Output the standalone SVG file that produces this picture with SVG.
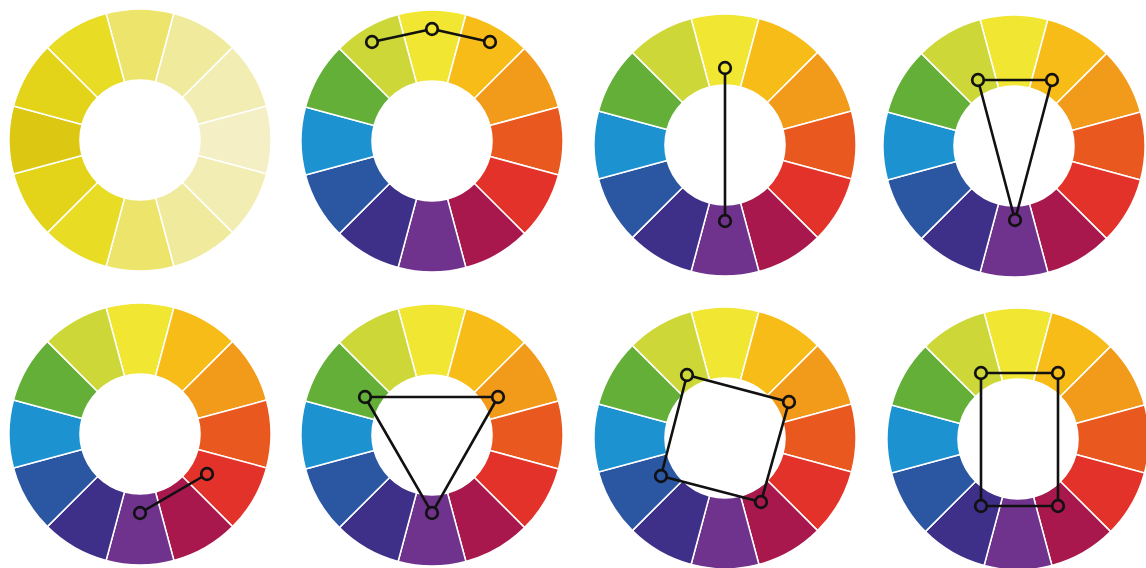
<svg xmlns="http://www.w3.org/2000/svg" xmlns:xlink="http://www.w3.org/1999/xlink" width="1146" height="568" viewBox="0 0 1146 568">
<style>
.seg{stroke:#fff;stroke-width:1.5;stroke-linejoin:round}
.ln{fill:none;stroke:#111;stroke-width:2.6;stroke-linejoin:round}
.mk{fill:none;stroke:#111;stroke-width:2.7}
.c0{fill:#F1E631}.c1{fill:#F8BC19}.c2{fill:#F29A1A}.c3{fill:#E9581F}.c4{fill:#E3322A}.c5{fill:#A8184C}
.c6{fill:#6F338E}.c7{fill:#3E2F88}.c8{fill:#2B56A2}.c9{fill:#1C92D0}.c10{fill:#64AF38}.c11{fill:#CDD838}
.m0{fill:#EDE46C}.m1{fill:#F0EA9C}.m2{fill:#F2EDB2}.m3{fill:#F4EFC4}.m4{fill:#F2EDB2}.m5{fill:#F0EA9C}
.m6{fill:#EDE46C}.m7{fill:#E8DC24}.m8{fill:#E3D419}.m9{fill:#DCC813}.m10{fill:#E3D419}.m11{fill:#E8DC24}
</style>
<defs>
<path id="seg" d="M -33.905 -126.536 A 131 131 0 0 1 33.905 -126.536 L 15.529 -57.956 A 60 60 0 0 0 -15.529 -57.956 Z"/>
<g id="rainbow">
<use href="#seg" class="seg c0"/>
<use href="#seg" class="seg c1" transform="rotate(30)"/>
<use href="#seg" class="seg c2" transform="rotate(60)"/>
<use href="#seg" class="seg c3" transform="rotate(90)"/>
<use href="#seg" class="seg c4" transform="rotate(120)"/>
<use href="#seg" class="seg c5" transform="rotate(150)"/>
<use href="#seg" class="seg c6" transform="rotate(180)"/>
<use href="#seg" class="seg c7" transform="rotate(210)"/>
<use href="#seg" class="seg c8" transform="rotate(240)"/>
<use href="#seg" class="seg c9" transform="rotate(270)"/>
<use href="#seg" class="seg c10" transform="rotate(300)"/>
<use href="#seg" class="seg c11" transform="rotate(330)"/>
</g>
<mask id="holes" maskUnits="userSpaceOnUse" x="0" y="0" width="1146" height="568">
<rect x="0" y="0" width="1146" height="568" fill="#fff"/>
<g fill="#000">
<circle cx="372" cy="42" r="5"/><circle cx="432" cy="29" r="5"/><circle cx="490" cy="42" r="5"/>
<circle cx="725" cy="68" r="5"/><circle cx="725" cy="221" r="5"/>
<circle cx="978" cy="80" r="5"/><circle cx="1052" cy="80" r="5"/><circle cx="1015" cy="220" r="5"/>
<circle cx="140" cy="513" r="5"/><circle cx="207" cy="474" r="5"/>
<circle cx="365" cy="397" r="5"/><circle cx="498" cy="397" r="5"/><circle cx="432" cy="513" r="5"/>
<circle cx="687" cy="375" r="5"/><circle cx="789" cy="402" r="5"/><circle cx="761" cy="502" r="5"/><circle cx="661" cy="476" r="5"/>
<circle cx="981" cy="373" r="5"/><circle cx="1058" cy="373" r="5"/><circle cx="1058" cy="506" r="5"/><circle cx="981" cy="506" r="5"/>
</g>
</mask>
</defs>
<rect width="1146" height="568" fill="#fff"/>
<g id="wheel-monochromatic" transform="translate(140,140)">
<use href="#seg" class="seg m0"/>
<use href="#seg" class="seg m1" transform="rotate(30)"/>
<use href="#seg" class="seg m2" transform="rotate(60)"/>
<use href="#seg" class="seg m3" transform="rotate(90)"/>
<use href="#seg" class="seg m4" transform="rotate(120)"/>
<use href="#seg" class="seg m5" transform="rotate(150)"/>
<use href="#seg" class="seg m6" transform="rotate(180)"/>
<use href="#seg" class="seg m7" transform="rotate(210)"/>
<use href="#seg" class="seg m8" transform="rotate(240)"/>
<use href="#seg" class="seg m9" transform="rotate(270)"/>
<use href="#seg" class="seg m10" transform="rotate(300)"/>
<use href="#seg" class="seg m11" transform="rotate(330)"/>
</g>
<g id="wheel-analogous"><use href="#rainbow" transform="translate(432,141)"/></g>
<g id="wheel-complementary"><use href="#rainbow" transform="translate(725,145)"/></g>
<g id="wheel-split-complementary"><use href="#rainbow" transform="translate(1014,146)"/></g>
<g id="wheel-near-complementary"><use href="#rainbow" transform="translate(140,434)"/></g>
<g id="wheel-triadic"><use href="#rainbow" transform="translate(432,435)"/></g>
<g id="wheel-square"><use href="#rainbow" transform="translate(725,438)"/></g>
<g id="wheel-rectangle"><use href="#rainbow" transform="translate(1018,439)"/></g>
<g id="connectors" class="ln" mask="url(#holes)">
<polyline points="372,42 432,29 490,42"/>
<line x1="725" y1="68" x2="725" y2="221"/>
<polygon points="978,80 1052,80 1015,220"/>
<line x1="140" y1="513" x2="207" y2="474"/>
<polygon points="365,397 498,397 432,513"/>
<polygon points="687,375 789,402 761,502 661,476"/>
<polygon points="981,373 1058,373 1058,506 981,506"/>
</g>
<g id="markers" class="mk">
<circle cx="372" cy="42" r="5.8"/><circle cx="432" cy="29" r="5.8"/><circle cx="490" cy="42" r="5.8"/>
<circle cx="725" cy="68" r="5.8"/><circle cx="725" cy="221" r="5.8"/>
<circle cx="978" cy="80" r="5.8"/><circle cx="1052" cy="80" r="5.8"/><circle cx="1015" cy="220" r="5.8"/>
<circle cx="140" cy="513" r="5.8"/><circle cx="207" cy="474" r="5.8"/>
<circle cx="365" cy="397" r="5.8"/><circle cx="498" cy="397" r="5.8"/><circle cx="432" cy="513" r="5.8"/>
<circle cx="687" cy="375" r="5.8"/><circle cx="789" cy="402" r="5.8"/><circle cx="761" cy="502" r="5.8"/><circle cx="661" cy="476" r="5.8"/>
<circle cx="981" cy="373" r="5.8"/><circle cx="1058" cy="373" r="5.8"/><circle cx="1058" cy="506" r="5.8"/><circle cx="981" cy="506" r="5.8"/>
</g>
</svg>
